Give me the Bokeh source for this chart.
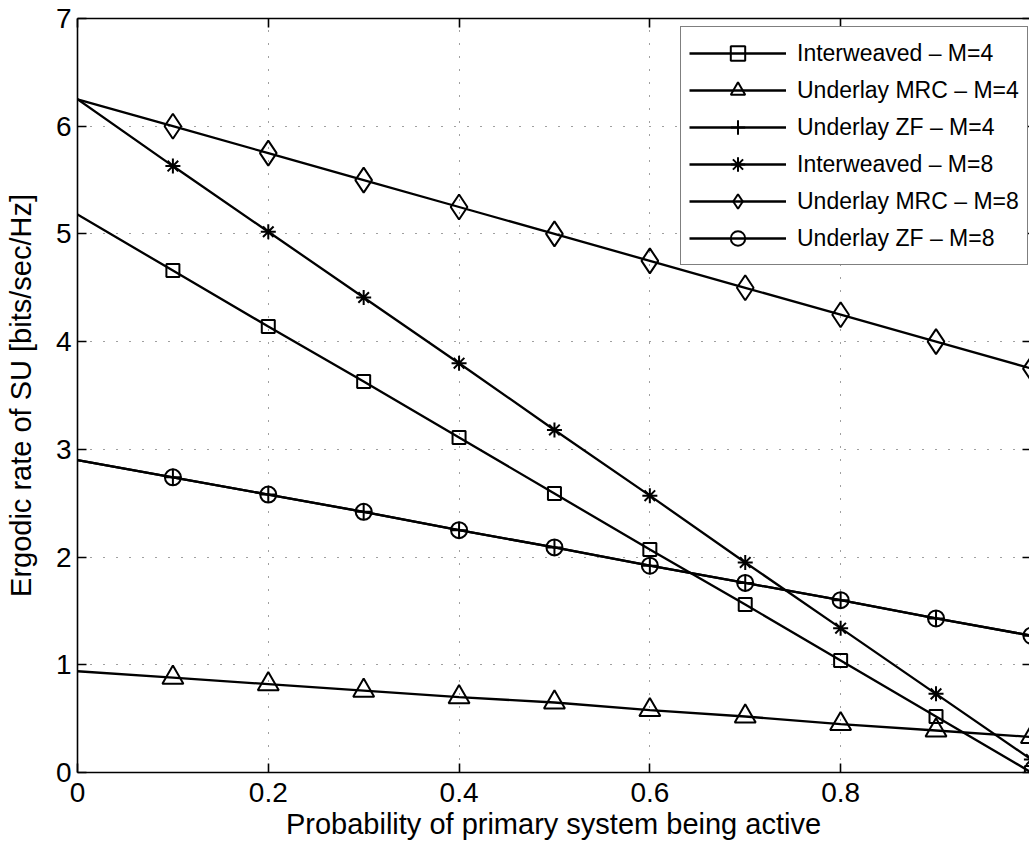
from bokeh.plotting import figure
from bokeh.models import (Legend, LegendItem, FixedTicker, LinearAxis, Range1d,
                          CustomJSTickFormatter)
from bokeh.embed import file_html
from bokeh.resources import INLINE

# Probability that the primary system is active
prob_active = [0.0, 0.1, 0.2, 0.3, 0.4, 0.5, 0.6, 0.7, 0.8, 0.9, 1.0]

# Ergodic rate of the secondary user [bits/sec/Hz]
interweaved_m4 = [5.18, 4.66, 4.14, 3.63, 3.11, 2.59, 2.07, 1.56, 1.04, 0.52, 0.0]
underlay_mrc_m4 = [0.94, 0.88, 0.82, 0.76, 0.70, 0.65, 0.58, 0.52, 0.45, 0.39, 0.33]
underlay_zf_m4 = [2.90, 2.74, 2.58, 2.42, 2.25, 2.09, 1.92, 1.76, 1.60, 1.43, 1.27]
interweaved_m8 = [6.25, 5.63, 5.02, 4.41, 3.80, 3.18, 2.57, 1.95, 1.34, 0.73, 0.12]
underlay_mrc_m8 = [6.25, 6.00, 5.75, 5.50, 5.25, 5.00, 4.75, 4.50, 4.25, 4.00, 3.75]
underlay_zf_m8 = [2.90, 2.74, 2.58, 2.42, 2.25, 2.09, 1.92, 1.76, 1.60, 1.43, 1.27]

series_labels = [
    "Interweaved \u2013 M=4",
    "Underlay MRC \u2013 M=4",
    "Underlay ZF \u2013 M=4",
    "Interweaved \u2013 M=8",
    "Underlay MRC \u2013 M=8",
    "Underlay ZF \u2013 M=8",
]

x_ticks = [0, 0.2, 0.4, 0.6, 0.8, 1]
x_tick_labels = ["0", "0.2", "0.4", "0.6", "0.8", "1"]
y_ticks = [0, 1, 2, 3, 4, 5, 6, 7]
y_tick_labels = ["0", "1", "2", "3", "4", "5", "6", "7"]

FONT = "Liberation Sans"

p = figure(
    width=1029, height=855,
    output_backend="svg", toolbar_location=None,
    x_range=Range1d(0, 0.998), y_range=Range1d(0, 7),
    min_border_left=77, min_border_right=0,
    min_border_top=18, min_border_bottom=83,
    x_axis_label="Probability of primary system being active",
    y_axis_label="Ergodic rate of SU [bits/sec/Hz]",
)
p.outline_line_color = None
p.background_fill_color = "white"
p.border_fill_color = "white"


def label_formatter(labels):
    return CustomJSTickFormatter(args=dict(labels=labels),
                                 code="return labels[index];")


def style_axis(ax, tick_in=9):
    ax.axis_line_color = "black"
    ax.axis_line_width = 1.6
    ax.major_tick_in = tick_in
    ax.major_tick_out = 0
    ax.major_tick_line_color = "black"
    ax.major_tick_line_width = 1.6
    ax.minor_tick_line_color = None
    ax.major_label_text_font = FONT
    ax.major_label_text_font_size = "28px"
    ax.major_label_text_color = "black"
    ax.axis_label_text_font = FONT
    ax.axis_label_text_font_size = "29px"
    ax.axis_label_text_font_style = "normal"
    ax.axis_label_text_color = "black"


xax = p.xaxis[0]
yax = p.yaxis[0]
xax.ticker = FixedTicker(ticks=x_ticks)
xax.formatter = label_formatter(x_tick_labels)
yax.ticker = FixedTicker(ticks=y_ticks)
yax.formatter = label_formatter(y_tick_labels)
style_axis(xax)
style_axis(yax)
xax.major_label_standoff = 10
xax.axis_label_standoff = 3
yax.major_label_standoff = 6
yax.axis_label_standoff = 16

# box axes: top and right carry tick marks only
top_ax = LinearAxis(ticker=FixedTicker(ticks=x_ticks))
right_ax = LinearAxis(ticker=FixedTicker(ticks=y_ticks))
for ax, tin in ((top_ax, 9), (right_ax, 7)):
    style_axis(ax, tin)
    ax.formatter = CustomJSTickFormatter(code="return '';")
    ax.major_label_text_color = None
    ax.major_label_text_font_size = "1px"
    ax.major_label_standoff = 0
p.add_layout(top_ax, "above")
right_ax.axis_line_color = None
p.add_layout(right_ax, "right")

# dotted grid
p.xgrid.ticker = FixedTicker(ticks=x_ticks)
p.ygrid.ticker = FixedTicker(ticks=y_ticks)
p.grid.grid_line_color = "black"
p.grid.grid_line_alpha = 0.75
p.grid.grid_line_width = 1
p.grid.grid_line_dash = "1 12"

series = [
    (interweaved_m4, "square", 13),
    (underlay_mrc_m4, "triangle", 21),
    (underlay_zf_m4, "cross", 17),
    (interweaved_m8, "asterisk", 15),
    (underlay_mrc_m8, "diamond", 25),
    (underlay_zf_m8, "circle", 16),
]

items = []
for label, (values, marker, size) in zip(series_labels, series):
    line_r = p.line(prob_active, values, line_color="black", line_width=2.3)
    mark_r = p.scatter(prob_active[1:], values[1:], marker=marker, size=size,
                       line_color="black", line_width=2, fill_color=None)
    items.append(LegendItem(label=label, renderers=[line_r, mark_r]))

legend = Legend(
    items=items,
    location=(603, 507),
    border_line_color="black", border_line_width=1.6,
    background_fill_color="white", background_fill_alpha=1.0,
    label_text_font=FONT, label_text_font_size="23px", label_text_color="black",
    glyph_width=97, glyph_height=36, label_height=36,
    spacing=1, padding=8, margin=0, label_standoff=11,
)
p.add_layout(legend)

open("out.html", "w").write(file_html(p, INLINE))
